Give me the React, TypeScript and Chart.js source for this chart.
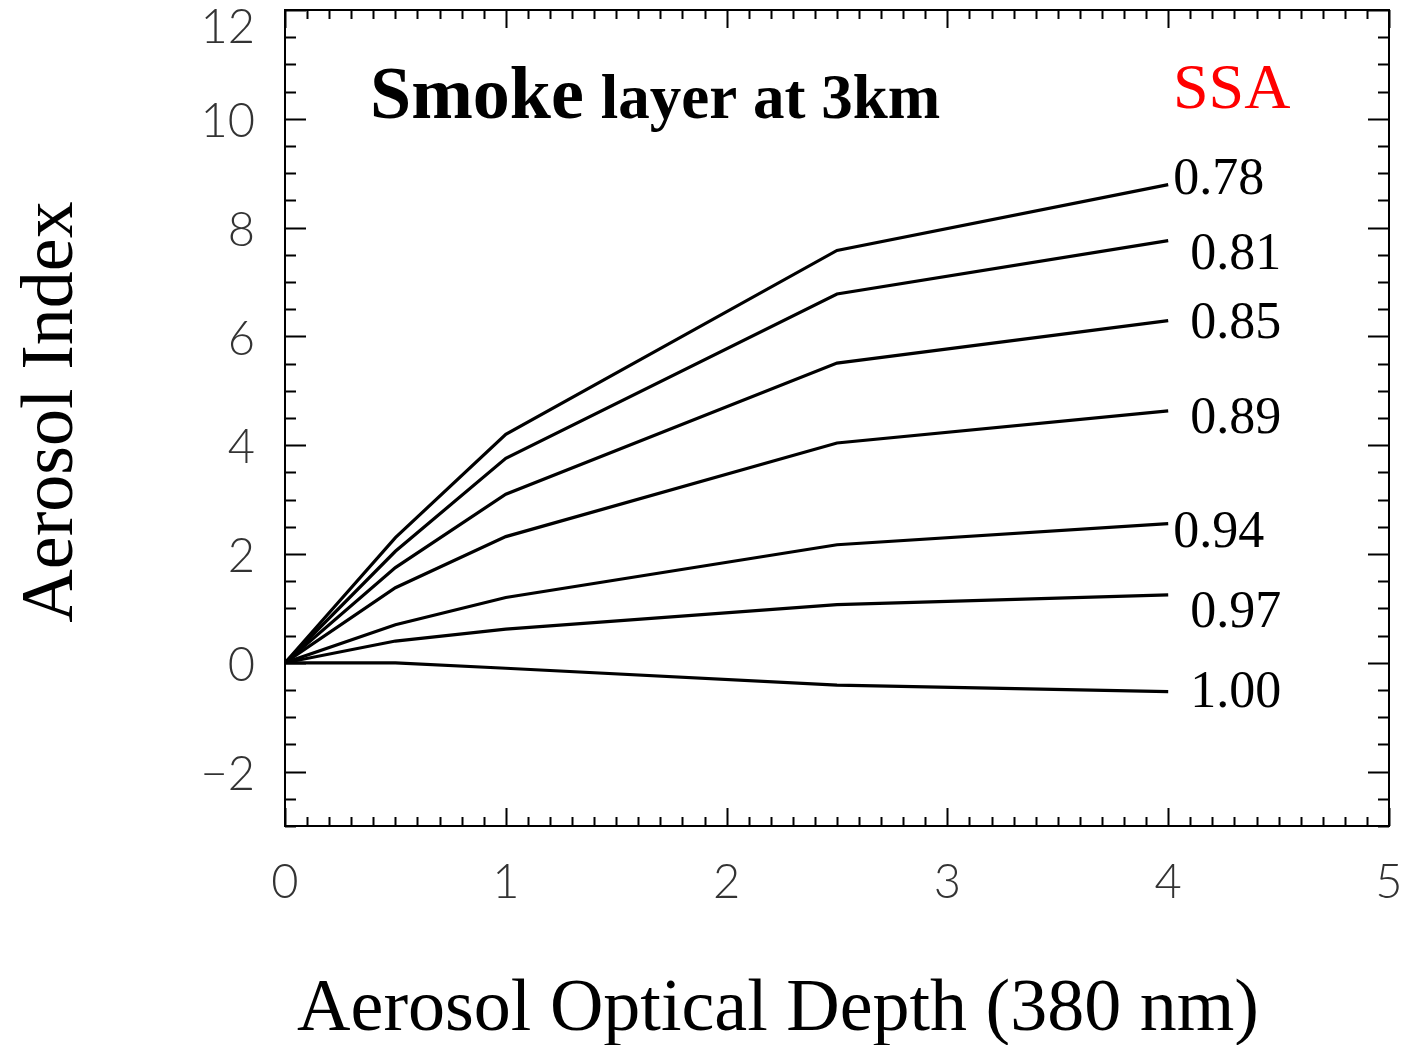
import React, { useEffect, useRef } from "react";
import { Chart, registerables } from "chart.js";
Chart.register(...registerables);

// Aerosol optical depth grid (x) and aerosol index per single scattering albedo
const aod = [0, 0.5, 1, 2.5, 4];
const ssaLabels = ["0.78", "0.81", "0.85", "0.89", "0.94", "0.97", "1.00"];
const ai078 = [0, 2.3, 4.2, 7.58, 8.79];
const ai081 = [0, 2.05, 3.76, 6.78, 7.76];
const ai085 = [0, 1.75, 3.1, 5.51, 6.29];
const ai089 = [0, 1.38, 2.32, 4.04, 4.63];
const ai094 = [0, 0.7, 1.2, 2.17, 2.56];
const ai097 = [0, 0.4, 0.62, 1.07, 1.25];
const ai100 = [0, 0.0, -0.1, -0.41, -0.53];
const seriesValues = [ai078, ai081, ai085, ai089, ai094, ai097, ai100];
const xTicks = [0, 1, 2, 3, 4, 5];
const yTicks = [-2, 0, 2, 4, 6, 8, 10, 12];

const titleMain = "Smoke";
const titleRest = "layer at 3km";
const legendTitle = "SSA";
const xTitle = "Aerosol Optical Depth (380 nm)";
const yTitle = "Aerosol Index";

// label placement relative to the end of each curve (pixels)
const labelDx = [5, 22, 22, 22, 5, 22, 22];
const labelDy = [9, 28, 17, 22, 23, 32, 15];

const SERIF = '"Liberation Serif", "Times New Roman", serif';

const decorPlugin = {
  id: "decor",
  beforeDraw(chart: any) {
    const ys = chart.scales.y;
    try {
      const items = ys.getLabelItems();
      items.forEach((it: any) => {
        if (it._shifted) return;
        it._shifted = true;
        const t = it.options.translation;
        t[1] += it.label === "12" ? 18 : 3;
      });
    } catch (e) {}
  },
  afterDraw(chart: any) {
    const { ctx, chartArea: a } = chart;
    const x = chart.scales.x;
    const y = chart.scales.y;
    ctx.save();
    ctx.strokeStyle = "#000";
    ctx.lineWidth = 2;
    ctx.strokeRect(a.left, a.top, a.right - a.left, a.bottom - a.top);
    ctx.beginPath();
    for (let i = 0; i <= 50; i++) {
      const px = Math.round(x.getPixelForValue(i / 10)) + 0.5;
      const len = i % 10 === 0 ? 18 : 9;
      ctx.moveTo(px, a.bottom);
      ctx.lineTo(px, a.bottom - len);
      ctx.moveTo(px, a.top);
      ctx.lineTo(px, a.top + len);
    }
    for (let i = -6; i <= 24; i++) {
      const py = Math.round(y.getPixelForValue(i / 2)) + 0.5;
      const len = i % 4 === 0 ? 21 : 11;
      ctx.moveTo(a.left, py);
      ctx.lineTo(a.left + len, py);
      ctx.moveTo(a.right, py);
      ctx.lineTo(a.right - len, py);
    }
    ctx.stroke();

    ctx.fillStyle = "#000";
    ctx.textBaseline = "alphabetic";
    ctx.textAlign = "left";
    ctx.font = `bold 74px ${SERIF}`;
    ctx.fillText(titleMain, 370, 118);
    const w = ctx.measureText(titleMain).width;
    ctx.font = `bold 63px ${SERIF}`;
    ctx.fillText(titleRest, 370 + w + 17, 118);

    ctx.fillStyle = "#ff0000";
    ctx.font = `64px ${SERIF}`;
    ctx.fillText(legendTitle, 1173, 108);

    ctx.fillStyle = "#000";
    ctx.font = `52px ${SERIF}`;
    seriesValues.forEach((vals, i) => {
      const lx = x.getPixelForValue(aod[aod.length - 1]) + labelDx[i];
      const ly = y.getPixelForValue(vals[vals.length - 1]) + labelDy[i];
      ctx.fillText(ssaLabels[i], lx, ly);
    });

    ctx.font = `74px ${SERIF}`;
    ctx.textAlign = "center";
    ctx.fillText(xTitle, 778, 1030);

    ctx.translate(72, 412);
    ctx.rotate(-Math.PI / 2);
    ctx.fillText(yTitle, 0, 0);
    ctx.restore();
  },
};

export default function App() {
  const ref = useRef<HTMLCanvasElement | null>(null);
  useEffect(() => {
    if (!ref.current) return;
    const datasets = seriesValues.map((vals, i) => ({
      label: ssaLabels[i],
      data: vals.map((v, j) => ({ x: aod[j], y: v })),
      borderColor: "#000",
      borderWidth: 3.2,
      pointRadius: 0,
      tension: 0,
      fill: false,
    }));
    const tickFont = { family: "Lato, 'DejaVu Sans', sans-serif", size: 47, weight: "300" as any, lineHeight: 1.2 };
    const fmt = (v: any) => (Number(v) < 0 ? "\u2212" + String(Math.abs(Number(v))) : String(v));
    const chart = new Chart(ref.current, {
      type: "line",
      data: { datasets },
      options: {
        responsive: false,
        animation: false,
        devicePixelRatio: 1,
        layout: { padding: { left: 0, top: 10, right: 17, bottom: 0 } },
        plugins: { legend: { display: false }, tooltip: { enabled: false }, title: { display: false } },
        scales: {
          x: {
            type: "linear",
            min: 0,
            max: 5,
            grid: { display: false },
            border: { display: false },
            ticks: { stepSize: 1, padding: 21, color: "#333", font: tickFont, maxRotation: 0, callback: fmt },
            afterBuildTicks: (s: any) => { s.ticks = xTicks.map((v) => ({ value: v })); },
            afterFit: (s: any) => { s.height = 219; s.paddingLeft = 0; s.paddingRight = 0; },
          },
          y: {
            type: "linear",
            min: -3,
            max: 12,
            grid: { display: false },
            border: { display: false },
            ticks: { stepSize: 2, padding: 22, color: "#333", font: tickFont, callback: fmt },
            afterBuildTicks: (s: any) => { s.ticks = yTicks.map((v) => ({ value: v })); },
            afterFit: (s: any) => { s.width = 285; s.paddingTop = 0; s.paddingBottom = 0; },
          },
        },
      },
      plugins: [decorPlugin],
    });
    return () => chart.destroy();
  }, []);
  return (
    <div style={{ position: "absolute", left: 0, top: 0, width: 1406, height: 1045, background: "#fff" }}>
      <canvas ref={ref} width={1406} height={1045} />
    </div>
  );
}
